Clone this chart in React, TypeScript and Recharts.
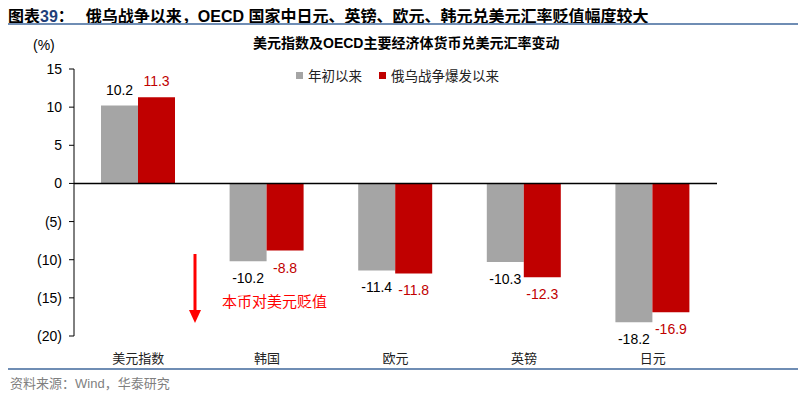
import { BarChart, Bar, XAxis, YAxis, ReferenceLine, LabelList } from "recharts";

const categories = ["美元指数", "韩国", "欧元", "英镑", "日元"];
const sinceYearStart = [10.2, -10.2, -11.4, -10.3, -18.2];
const sinceWar = [11.3, -8.8, -11.8, -12.3, -16.9];
const yTicks = [-20, -15, -10, -5, 0, 5, 10, 15];

const GRAY = "#A5A5A5";
const RED = "#C00000";
const LINE = "#6F8DB4";
const FONT = "'Liberation Sans', Arial, 'Noto Sans CJK SC', sans-serif";
const CJK = "'Noto Sans CJK SC', sans-serif";

const data = categories.map((name, i) => ({
    name,
    ytd: sinceYearStart[i],
    war: sinceWar[i],
}));

function fmtTick(v: number) {
    return v < 0 ? `(${Math.abs(v)})` : `${v}`;
}

function makeLabel(color: string) {
    return (props: any) => {
        const { x, y, width, height, value } = props;
        const top = Math.min(y, y + height);
        const bottom = Math.max(y, y + height);
        const cy = value < 0 ? bottom + 17 : top - 16;
        return (
            <text
                x={x + width / 2}
                y={cy}
                textAnchor="middle"
                dominantBaseline="central"
                fill={color}
                fontSize={14}
                fontFamily={FONT}
            >
                {value}
            </text>
        );
    };
}

function LegendBox() {
    const items = [
        { label: "年初以来", color: GRAY },
        { label: "俄乌战争爆发以来", color: RED },
    ];
    return (
        <div style={{ display: "flex", alignItems: "center", fontFamily: CJK, fontSize: 13.5, color: "#222" }}>
            {items.map((it, i) => (
                <div key={it.label} style={{ display: "flex", alignItems: "center", marginLeft: i ? 17 : 0 }}>
                    <span style={{ width: 7, height: 7, background: it.color, display: "inline-block", marginRight: 5 }} />
                    <span>{it.label}</span>
                </div>
            ))}
        </div>
    );
}

export default function App() {
    return (
        <div style={{ position: "absolute", left: 0, top: 0, width: 812, height: 393, background: "#fff", overflow: "hidden" }}>
            <div style={{ position: "absolute", left: 8, top: 3, fontFamily: CJK, fontWeight: 700, fontSize: 16, whiteSpace: "nowrap", color: "#000" }}>
                图表<span style={{ color: "#1F3F7A", fontFamily: FONT }}>39</span>：
                <span style={{ marginLeft: 12 }}>俄乌战争以来，<span style={{ fontFamily: FONT }}>OECD </span>国家中日元、英镑、欧元、韩元兑美元汇率贬值幅度较大</span>
            </div>
            <div style={{ position: "absolute", left: 8, top: 23, width: 790, height: 2, background: LINE }} />
            <div style={{ position: "absolute", left: 253, top: 32, fontFamily: CJK, fontWeight: 700, fontSize: 14, whiteSpace: "nowrap", color: "#000" }}>
                美元指数及<span style={{ fontFamily: FONT }}>OECD</span>主要经济体货币兑美元汇率变动
            </div>
            <div style={{ position: "absolute", left: 33, top: 37, fontFamily: FONT, fontSize: 14, color: "#000" }}>(%)</div>
            <div style={{ position: "absolute", left: 296, top: 65 }}>
                <LegendBox />
            </div>

            <BarChart
                width={812}
                height={393}
                data={data}
                margin={{ top: 69, right: 95, bottom: 27, left: 14 }}
                barGap={0}
                barSize={37}
                style={{ position: "absolute", left: 0, top: 0 }}
            >
                <XAxis
                    dataKey="name"
                    axisLine={false}
                    tickLine={false}
                    height={30}
                    tickMargin={12}
                    tick={{ fontSize: 13, fill: "#222", fontFamily: CJK }}
                />
                <YAxis
                    domain={[-20, 15]}
                    ticks={yTicks}
                    width={60}
                    interval={0}
                    tickFormatter={fmtTick}
                    axisLine={{ stroke: "#000" }}
                    tickLine={{ stroke: "#000" }}
                    tickSize={5}
                    tickMargin={7}
                    tick={{ fontSize: 14, fill: "#000", fontFamily: FONT }}
                />
                <Bar dataKey="ytd" name="年初以来" fill={GRAY} isAnimationActive={false}>
                    <LabelList dataKey="ytd" content={makeLabel("#000")} />
                </Bar>
                <Bar dataKey="war" name="俄乌战争爆发以来" fill={RED} isAnimationActive={false}>
                    <LabelList dataKey="war" content={makeLabel(RED)} />
                </Bar>
                <ReferenceLine y={0} stroke="#000" strokeWidth={1.5} />
            </BarChart>

            <svg width={812} height={393} style={{ position: "absolute", left: 0, top: 0, pointerEvents: "none" }}>
                <line x1={195} y1={254} x2={195} y2={311} stroke="#FF0000" strokeWidth={3} />
                <polygon points="189,310 201,310 195,323" fill="#FF0000" />
                <text x={222} y={300} dominantBaseline="central" fill="#FF0000" fontSize={15} fontFamily={CJK}>
                    本币对美元贬值
                </text>
            </svg>

            <div style={{ position: "absolute", left: 8, top: 368, width: 790, height: 1.5, background: LINE }} />
            <div style={{ position: "absolute", left: 10, top: 373, fontFamily: CJK, fontSize: 13, color: "#7F7F7F", whiteSpace: "nowrap" }}>
                资料来源：<span style={{ fontFamily: FONT }}>Wind</span>，华泰研究
            </div>
        </div>
    );
}
